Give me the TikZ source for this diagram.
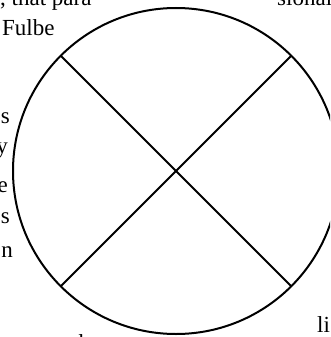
\documentclass[tikz,border=0pt]{standalone}
\usepackage{fontspec}
\setmainfont{Liberation Serif}

\begin{document}
\begin{tikzpicture}[x=1pt, y=-1pt,
	every node/.style={font=\fontsize{23}{27}\selectfont, inner sep=0pt},
	rim/.style={draw, circle, line width=2pt, minimum size=326pt, inner sep=0pt, outer sep=0pt},
	cross/.style={line width=2pt}]
	\useasboundingbox (0,0) rectangle (330,337);
	\clip (0,0) rectangle (330,337);
	% surrounding text, cut by the page edges
	\node[anchor=base west] (paratop) at (0,6) {, that para};
	\node[anchor=base west] (sional) at (277,6) {sional};
	\node[anchor=base west] (fulbe) at (2,36) {Fulbe};
	\node[anchor=base east] (ends) at (10,123) {s};
	\node[anchor=base east] (endy) at (8,153) {y};
	\node[anchor=base east] (ende) at (8,192) {e};
	\node[anchor=base east] (endss) at (10,223) {s};
	\node[anchor=base east] (endn) at (13,257) {n};
	\node[anchor=base west] (li) at (317,332) {li};
	\node[anchor=base west] (th) at (72,350) {th};
	% the crossed circle
	\node[rim] (disc) at (176,171) {};
	\draw[cross] (disc.135) -- (disc.-45);
	\draw[cross] (disc.45) -- (disc.-135);
\end{tikzpicture}
\end{document}
